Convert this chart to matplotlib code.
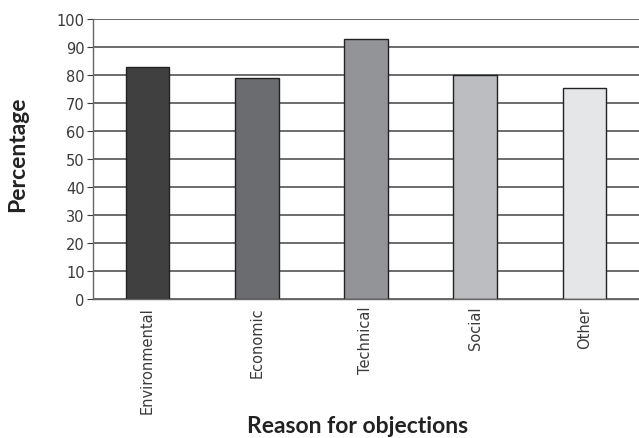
import matplotlib.pyplot as plt

# data
reasons = ["Environmental", "Economic", "Technical", "Social", "Other"]
percentages = [82.7, 78.7, 92.6, 80.0, 75.2]
bar_colors = ["#404040", "#6b6c70", "#939498", "#bcbdc1", "#e5e6e8"]
yticks = list(range(0, 101, 10))

plt.rcParams['font.family'] = ['DejaVu Sans']

W, H = 639, 439
fig = plt.figure(figsize=(W / 100, H / 100), dpi=100)
ax = fig.add_axes([93 / W, 1 - 300 / H, (W - 93) / W, (300 - 19.7) / H])

# gridlines behind the bars
ax.set_axisbelow(True)
ax.yaxis.grid(True, color="#444444", linewidth=1.1)

x = list(range(len(reasons)))
ax.bar(x, percentages, width=0.4, color=bar_colors, edgecolor="#222222", linewidth=1.0)

ax.set_xlim(-0.5, len(reasons) - 0.5)
ax.set_ylim(0, 100)
ax.set_yticks(yticks)
ax.set_xticks(x)
ax.set_xticklabels(reasons, rotation=90, fontsize=10.5, color="#3a3a3a")
ax.tick_params(axis="y", labelsize=10.5, colors="#3a3a3a", length=4, width=0.8, pad=2)
ax.tick_params(axis="x", length=0, pad=5)

for side in ["top", "right"]:
    ax.spines[side].set_visible(False)
for side in ["left", "bottom"]:
    ax.spines[side].set_color("#666666")
    ax.spines[side].set_linewidth(1.0)

# axis titles placed by hand to match the reference layout
fig.text(17.5 / W, 1 - 154 / H, "Percentage", rotation=90, ha="center", va="center",
         fontsize=16.5, fontweight="bold", color="#222222", family=["Lato", "DejaVu Sans"])
fig.text(358 / W, 1 - 427 / H, "Reason for objections", ha="center", va="center",
         fontsize=16.5, fontweight="bold", color="#222222", family=["Lato", "DejaVu Sans"])

fig.savefig("out.png", dpi=100)
